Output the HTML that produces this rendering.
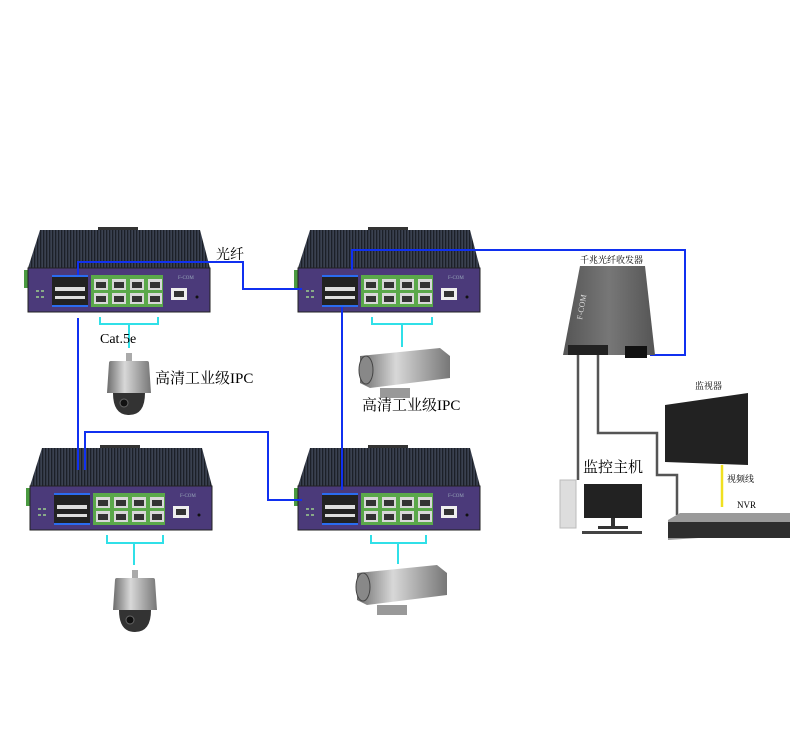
<!DOCTYPE html>
<html><head><meta charset="utf-8"><style>body{margin:0;background:#fff}svg{display:block}text{font-family:"Liberation Serif","Noto Serif CJK SC",serif}</style></head><body>
<svg width="800" height="738" viewBox="0 0 800 738" xmlns="http://www.w3.org/2000/svg">
<defs>
<pattern id="fin" width="3" height="10" patternUnits="userSpaceOnUse"><rect width="3" height="10" fill="#3a4150"/><rect width="1.3" height="10" fill="#1c2028"/></pattern>
<linearGradient id="metal" x1="0" x2="1"><stop offset="0" stop-color="#6c6c6c"/><stop offset=".4" stop-color="#d8d8d8"/><stop offset="1" stop-color="#777"/></linearGradient>
<linearGradient id="tr" x1="0" x2="1"><stop offset="0" stop-color="#555"/><stop offset=".5" stop-color="#777"/><stop offset="1" stop-color="#555"/></linearGradient>
<g id="sw">
<rect x="70" y="-3" width="40" height="5" fill="#333"/>
<polygon points="12,0 172,0 182,38 0,38" fill="url(#fin)"/>
<rect x="-4" y="40" width="4" height="18" fill="#4a9a40"/>
<rect x="0" y="38" width="182" height="44" fill="#4b3a7a" stroke="#222" stroke-width="1"/>
<rect x="24" y="46" width="36" height="30" fill="#222"/>
<rect x="24" y="45" width="36" height="2" fill="#2a6cf0"/><rect x="24" y="75" width="36" height="2" fill="#2a6cf0"/>
<rect x="27" y="57" width="30" height="4" fill="#ddd"/><rect x="27" y="66" width="30" height="3" fill="#ddd"/>
<rect x="63" y="45" width="72" height="32" fill="#5aa84a"/>
<g fill="#d8d8d8"><rect x="66" y="49" width="14" height="11"/><rect x="84" y="49" width="14" height="11"/><rect x="102" y="49" width="14" height="11"/><rect x="120" y="49" width="14" height="11"/>
<rect x="66" y="63" width="14" height="11"/><rect x="84" y="63" width="14" height="11"/><rect x="102" y="63" width="14" height="11"/><rect x="120" y="63" width="14" height="11"/></g>
<g fill="#333"><rect x="68" y="52" width="10" height="6"/><rect x="86" y="52" width="10" height="6"/><rect x="104" y="52" width="10" height="6"/><rect x="122" y="52" width="10" height="6"/>
<rect x="68" y="66" width="10" height="6"/><rect x="86" y="66" width="10" height="6"/><rect x="104" y="66" width="10" height="6"/><rect x="122" y="66" width="10" height="6"/></g>
<rect x="143" y="58" width="16" height="12" fill="#eee"/><rect x="146" y="61" width="10" height="6" fill="#333"/>
<text x="150" y="49" font-size="5" fill="#9ab" font-family="Liberation Sans">F-COM</text>
<circle cx="169" cy="67" r="1.5" fill="#111"/>
<g fill="#8a8"><rect x="8" y="60" width="3" height="2"/><rect x="13" y="60" width="3" height="2"/><rect x="8" y="66" width="3" height="2"/><rect x="13" y="66" width="3" height="2"/></g>
</g>
<g id="dome">
<rect x="-3" y="-10" width="6" height="10" fill="#aaa"/>
<path d="M-20,0 Q-20,-2 -18,-2 L18,-2 Q20,-2 20,0 L22,30 L-22,30 Z" fill="url(#metal)"/>
<path d="M-16,30 L16,30 Q16,52 0,52 Q-16,52 -16,30Z" fill="#333"/>
<circle cx="-5" cy="40" r="4" fill="#111" stroke="#666"/>
</g>
<g id="bullet">
<path d="M0,8 L80,0 L90,8 L90,30 L10,40 L0,35Z" fill="url(#metal)"/>
<ellipse cx="6" cy="22" rx="7" ry="14" fill="#888" stroke="#444"/>
<rect x="20" y="40" width="30" height="10" fill="#999"/>
</g>
</defs>

<use href="#sw" x="28" y="230"/>
<use href="#sw" x="298" y="230"/>
<use href="#sw" x="30" y="448"/>
<use href="#sw" x="298" y="448"/>

<g stroke="#1030f0" stroke-width="2" fill="none">
<polyline points="78,275 78,262 243,262 243,289 302,289"/>
<polyline points="352,270 352,250 685,250 685,355 650,355"/>
<polyline points="78,318 78,470"/>
<polyline points="85,470 85,432 268,432 268,500 302,500"/>
<polyline points="342,307 342,490"/>
</g>
<text x="216" y="259" font-size="14">光纤</text>

<g stroke="#30e0e8" stroke-width="2" fill="none">
<polyline points="100,317 100,324 158,324 158,317"/><line x1="129" y1="324" x2="129" y2="348"/>
<polyline points="372,317 372,324 432,324 432,317"/><line x1="402" y1="324" x2="402" y2="347"/>
<polyline points="107,535 107,543 163,543 163,535"/><line x1="134" y1="543" x2="134" y2="565"/>
<polyline points="371,535 371,543 426,543 426,535"/><line x1="398" y1="543" x2="398" y2="564"/>
</g>
<text x="100" y="343" font-size="14">Cat.5e</text>
<use href="#dome" x="129" y="363"/>
<use href="#dome" x="135" y="580"/>
<text x="155" y="383" font-size="15">高清工业级IPC</text>
<use href="#bullet" x="360" y="348"/>
<use href="#bullet" x="357" y="565"/>
<text x="362" y="410" font-size="15">高清工业级IPC</text>

<text x="580" y="263" font-size="9">千兆光纤收发器</text>
<polygon points="580,266 645,266 655,355 563,355" fill="url(#tr)"/>
<rect x="568" y="345" width="20" height="10" fill="#222"/><rect x="588" y="345" width="20" height="10" fill="#222"/><rect x="625" y="346" width="22" height="12" fill="#111"/>
<text x="582" y="320" font-size="8" fill="#ddd" transform="rotate(-80 582 320)" font-family="Liberation Sans">F-COM</text>
<g stroke="#555" stroke-width="2.5" fill="none">
<line x1="578" y1="355" x2="578" y2="480"/>
<polyline points="598,355 598,433 657,433 657,475 677,475 677,515"/>
</g>
<text x="695" y="389" font-size="9">监视器</text>
<polygon points="665,405 748,393 748,465 665,462" fill="#222"/>
<line x1="722" y1="465" x2="722" y2="507" stroke="#f0e020" stroke-width="2.5"/>
<text x="727" y="482" font-size="9">视频线</text>
<text x="737" y="508" font-size="9">NVR</text>
<polygon points="668,520 680,513 790,513 790,532 668,540" fill="#9a9a9a"/>
<rect x="668" y="522" width="122" height="16" fill="#2e2e2e"/>
<text x="583" y="472" font-size="15">监控主机</text>
<rect x="560" y="480" width="16" height="48" fill="#ddd" stroke="#bbb"/>
<rect x="584" y="484" width="58" height="34" fill="#222"/>
<rect x="611" y="518" width="4" height="8" fill="#333"/><rect x="598" y="526" width="30" height="3" fill="#333"/>
<rect x="582" y="531" width="60" height="3" fill="#444"/>
</svg>
</body></html>
